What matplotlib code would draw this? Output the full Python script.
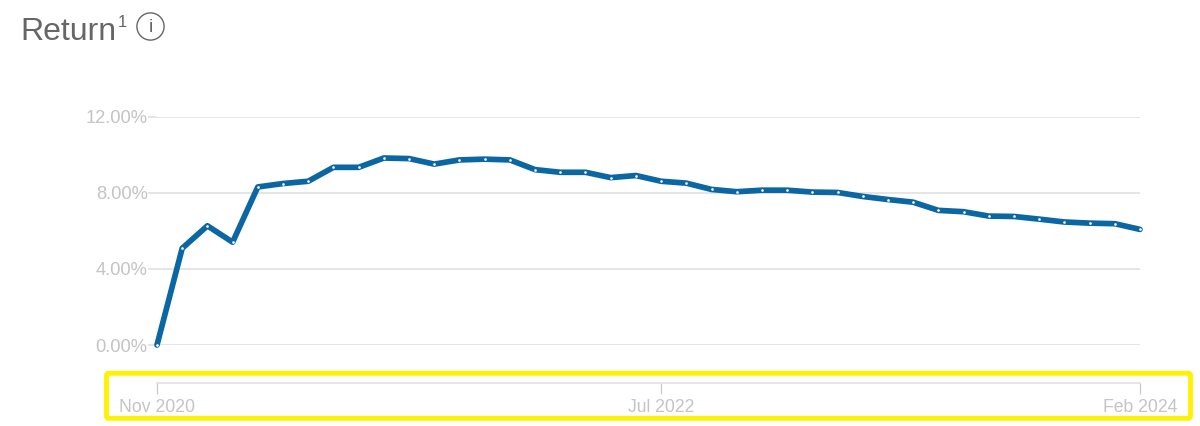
import matplotlib.pyplot as plt
import numpy as np
from matplotlib.patches import FancyBboxPatch, Circle

plt.rcParams['font.family'] = ['Liberation Sans', 'DejaVu Sans']

# monthly return in %, Nov 2020 - Feb 2024
returns = [0.0, 5.08, 6.26, 5.4, 8.3, 8.48, 8.6, 9.33, 9.33, 9.82,
           9.79, 9.5, 9.72, 9.76, 9.72, 9.21, 9.07, 9.07, 8.79, 8.9,
           8.6, 8.5, 8.17, 8.05, 8.13, 8.13, 8.03, 8.01, 7.8, 7.64,
           7.5, 7.07, 7.0, 6.77, 6.75, 6.61, 6.46, 6.4, 6.37, 6.07]
y_ticks = [0, 4, 8, 12]
y_labels = ["0.00%", "4.00%", "8.00%", "12.00%"]
x_ticks = [0, 20, 39]
x_labels = ["Nov 2020", "Jul 2022", "Feb 2024"]

W, H = 1200, 426
grey = "#c4c4c4"
grid = "#e0e0e0"
blue = "#0a67a3"

fig = plt.figure(figsize=(W / 100, H / 100), dpi=100)
ax = fig.add_axes([157 / W, 1 - 345 / H, 983 / W, 228.5 / H])

months = np.arange(len(returns))
ax.plot(months, returns, color=blue, lw=4.1, solid_joinstyle="round",
        solid_capstyle="round", clip_on=False, zorder=3)
ax.plot(months, returns, ls="none", marker="o", ms=1.9, mec="none",
        color="white", clip_on=False, zorder=4)

ax.set_xlim(0, 39)
ax.set_ylim(0, 12)
ax.set_yticks(y_ticks, y_labels)
ax.set_xticks(x_ticks, x_labels)
ax.grid(axis="y", color=grid, lw=1.2)
ax.set_axisbelow(True)
ax.tick_params(axis="y", length=6.5, width=1.2, color=grid, labelcolor=grey,
               labelsize=13.2, pad=0.2)
ax.tick_params(axis="x", length=8, width=0.9, color="#c8c8c8", labelcolor=grey,
               labelsize=12.7, pad=3.8)
for s in ["top", "left", "right"]:
    ax.spines[s].set_visible(False)
ax.spines["bottom"].set_position(("outward", 27.4))
ax.spines["bottom"].set_color(grid)
ax.spines["bottom"].set_linewidth(1.2)

# header
fig.text(20 / W, 1 - 40 / H, "Return", fontsize=23, color="#666666")
fig.text(118 / W, 1 - 27 / H, "1", fontsize=12, color="#666666")
fig.add_artist(Circle((150.5, H - 26.5), 13.6, transform=None, fc="none",
                      ec="#666666", lw=1.0))
fig.text(150.5 / W, 1 - 27 / H, "i", fontsize=14, color="#666666",
         ha="center", va="center")

# highlight box
fig.add_artist(FancyBboxPatch((106.5, H - 418.3), 1084, 45, transform=None,
                              boxstyle="round,pad=0,rounding_size=2",
                              fc="none", ec="#fff200", lw=3.5))

fig.savefig("out.png", dpi=100)
